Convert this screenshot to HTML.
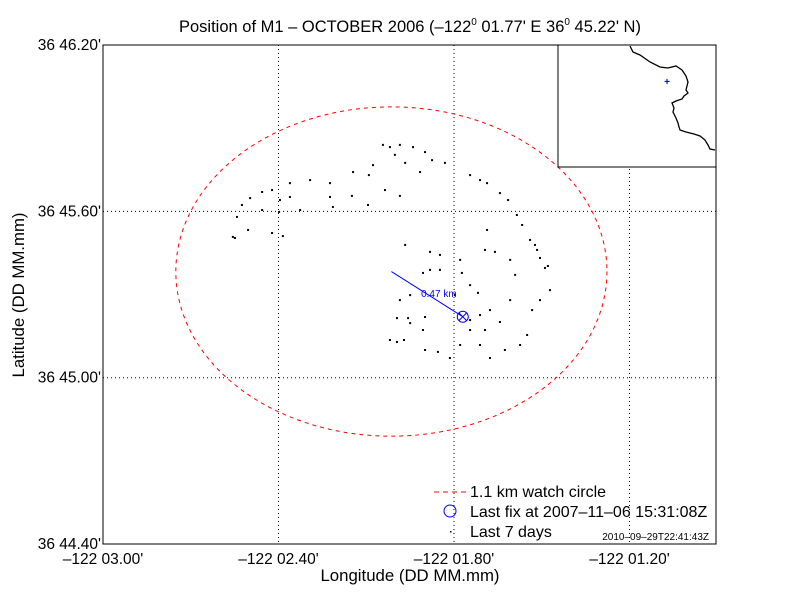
<!DOCTYPE html>
<html><head><meta charset="utf-8"><style>
html,body{margin:0;padding:0;background:#fff}
svg{display:block;font-family:"Liberation Sans",Arial,sans-serif}
</style></head><body>
<svg id="chart" width="792" height="612" viewBox="0 0 792 612" xmlns="http://www.w3.org/2000/svg">
<rect width="792" height="612" fill="#fff"/>
<text x="410" y="32" font-size="16.5" text-anchor="middle">Position of M1 – OCTOBER 2006 (–122<tspan dy="-7" font-size="10">0</tspan><tspan dy="7"> 01.77' E  36</tspan><tspan dy="-7" font-size="10">0</tspan><tspan dy="7"> 45.22' N)</tspan></text>
<g id="grid"></g>
<g id="marks"></g>
<rect x="103" y="45" width="613" height="499" fill="none" stroke="#000" stroke-width="1"/>
<g id="ticks" font-size="15.5"></g>
<text x="410" y="581" font-size="16.8" text-anchor="middle">Longitude (DD MM.mm)</text>
<text x="0" y="0" font-size="16.8" text-anchor="middle" transform="translate(24,295) rotate(-90)">Latitude (DD MM.mm)</text>
<g>
<rect x="558" y="45" width="158" height="122" fill="#fff" stroke="#000"/>
<polyline fill="none" stroke="#000" stroke-width="1.3" points="630,46 633,52 640,55 650,62 660,67 668,68 676,66 682,70 686,76 688,82 686,90 688,93 684,96 682,99 676,101 672,103 674,108 673,112 676,118 678,123 679,127 680,130 686,132 694,134 700,136 705,140 708,145 710,149 715,150"/>
<text x="667" y="85" font-size="10" font-weight="bold" fill="#00f" text-anchor="middle">+</text>
</g>
<g font-size="16">
<line x1="434" y1="492" x2="466" y2="492" stroke="#f00" stroke-dasharray="5,4"/>
<text x="470" y="497">1.1 km watch circle</text>
<circle cx="450" cy="511" r="6" fill="none" stroke="#00f"/>
<text x="470" y="517">Last fix at 2007–11–06 15:31:08Z</text>
<rect x="450" y="531" width="1.5" height="1.5" fill="#000"/>
<text x="470" y="537">Last 7 days</text>
<text x="709" y="540" font-size="10" text-anchor="end">2010–09–29T22:41:43Z</text>
</g>
</svg>
<script>
const xTicks=[3.00,2.40,1.80,1.20];
const xTickLabels=["–122 03.00'","–122 02.40'","–122 01.80'","–122 01.20'"];
const yTicks=[46.20,45.60,45.00,44.40];
const yTickLabels=["36 46.20'","36 45.60'","36 45.00'","36 44.40'"];
const center=[2.014,45.383];
const watchRadii=[0.737,0.594];
const lastFix=[1.77,45.22];
const distanceLabel="0.47 km";
const trackLon=[2.043,2.019,1.985,1.940,1.899,1.875,1.967,2.002,2.077,2.091,2.145,2.224,2.292,2.361,2.422,2.456,2.497,2.525,2.542,2.556,2.549,2.504,2.456,2.395,2.361,2.398,2.385,2.422,2.326,2.224,2.214,2.149,2.094,2.036,1.985,1.916,1.831,1.745,1.711,1.687,1.643,1.615,1.585,1.567,1.540,1.523,1.516,1.506,1.489,1.479,1.472,1.506,1.533,1.550,1.574,1.626,1.677,1.711,1.694,1.643,1.608,1.591,1.608,1.660,1.687,1.967,1.882,1.848,1.882,1.906,1.950,1.985,2.019,1.995,1.971,1.950,1.906,1.899,1.855,1.814,1.779,1.745,1.711,1.745,1.677,1.797,1.848,1.779,1.773,1.745,1.694,1.718,1.899,1.957,1.995];
const trackLat=[45.840,45.832,45.840,45.832,45.814,45.785,45.775,45.804,45.767,45.731,45.742,45.702,45.713,45.702,45.677,45.670,45.648,45.623,45.580,45.508,45.504,45.533,45.605,45.641,45.652,45.598,45.511,45.522,45.605,45.652,45.616,45.656,45.623,45.677,45.656,45.742,45.775,45.731,45.713,45.702,45.666,45.641,45.587,45.551,45.497,45.479,45.461,45.432,45.396,45.403,45.316,45.280,45.244,45.154,45.118,45.100,45.071,45.118,45.172,45.201,45.280,45.371,45.425,45.454,45.533,45.479,45.454,45.443,45.389,45.378,45.298,45.280,45.136,45.129,45.136,45.197,45.172,45.100,45.093,45.071,45.118,45.172,45.226,45.208,45.244,45.298,45.389,45.425,45.378,45.334,45.461,45.306,45.219,45.215,45.215];
const NS="http://www.w3.org/2000/svg";
function xs(v){return 103+(3.00-v)/0.6*175.5;}
function ys(v){return 544-(v-44.40)/0.6*166.3;}
function mk(tag,attrs,parent){const e=document.createElementNS(NS,tag);for(const k in attrs)e.setAttribute(k,attrs[k]);parent.appendChild(e);return e;}
const grid=document.getElementById('grid'),marks=document.getElementById('marks'),ticks=document.getElementById('ticks');
xTicks.forEach((t,i)=>{
  const x=xs(t);
  if(i>0){const l=mk('line',{x1:x,y1:45,x2:x,y2:544,stroke:'#000','stroke-dasharray':'1,3'},grid);
  
  }
  const tx=mk('text',{x:x,y:564,'text-anchor':'middle'},ticks);tx.textContent=xTickLabels[i];
  
  
});
yTicks.forEach((t,i)=>{
  const y=ys(t);
  if(i>0&&i<yTicks.length-1){const l=mk('line',{x1:103,y1:y,x2:716,y2:y,stroke:'#000','stroke-dasharray':'1,3'},grid);
  
  }
  const tx=mk('text',{x:101,y:y+5,'text-anchor':'end'},ticks);tx.textContent=yTickLabels[i];
  
  
});
const cx=xs(center[0]),cy=ys(center[1]);
const rx=watchRadii[0]/0.6*175.5, ry=watchRadii[1]/0.6*166.3;
const ell=mk('ellipse',{cx:cx,cy:cy,rx:rx,ry:ry,fill:'none',stroke:'#f00','stroke-dasharray':'4,4'},marks);


trackLon.forEach((lo,i)=>{
  const d=mk('rect',{x:xs(lo)-1,y:ys(trackLat[i])-1,width:2,height:2,fill:'#000'},marks);
  
  
});
const fx=xs(lastFix[0]),fy=ys(lastFix[1]);
const ln=mk('line',{x1:cx,y1:cy,x2:fx,y2:fy,stroke:'#00f'},marks);


const lb=mk('text',{x:(cx+fx)/2-6,y:(cy+fy)/2+3,'font-size':'10',fill:'#00f'},marks);lb.textContent=distanceLabel;


const fc=mk('circle',{cx:fx,cy:fy,r:5.5,fill:'none',stroke:'#00f'},marks);


const fxx=mk('path',{d:`M${fx-4} ${fy-4}L${fx+4} ${fy+4}M${fx+4} ${fy-4}L${fx-4} ${fy+4}`,stroke:'#00f'},marks);


</script>
</body></html>
